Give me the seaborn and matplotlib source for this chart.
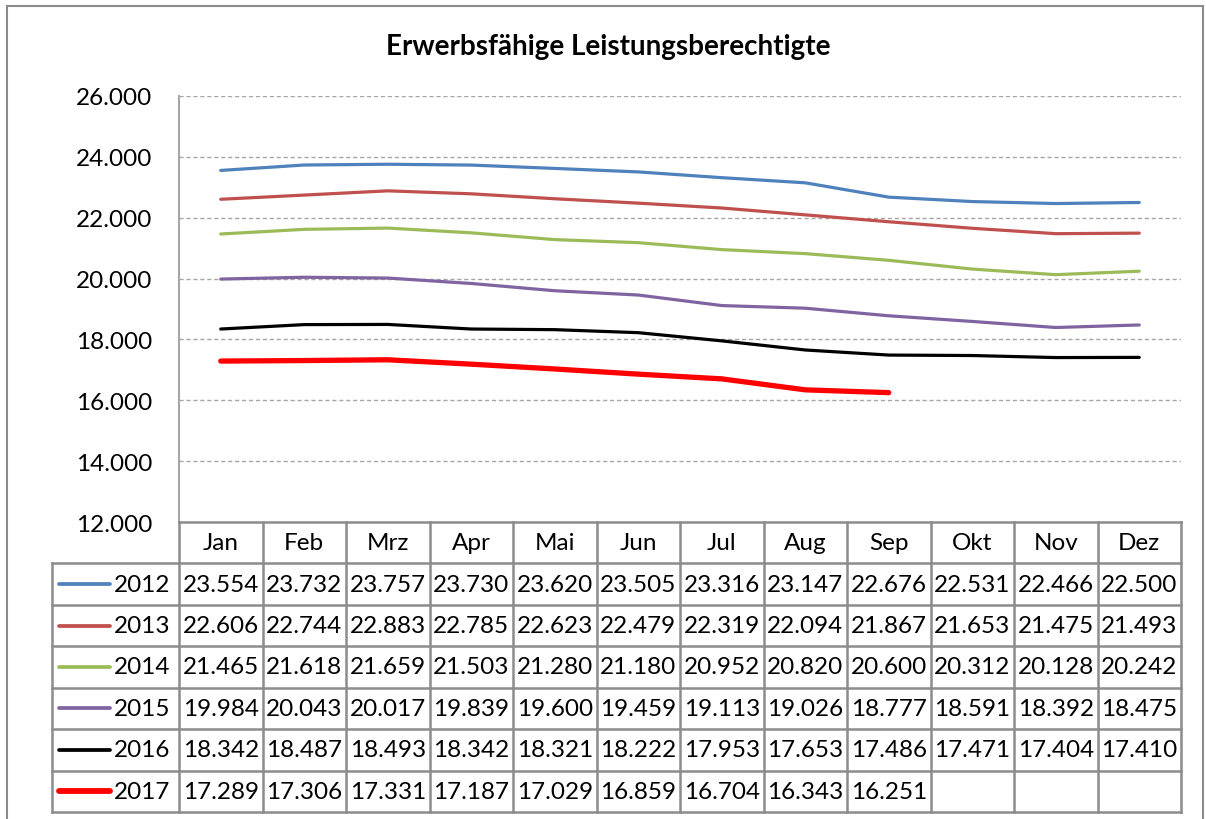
import matplotlib
matplotlib.use("Agg")
import matplotlib.pyplot as plt
from matplotlib.patches import Rectangle
from matplotlib.ticker import FuncFormatter
import numpy as np
import seaborn as sns

# ── Data ───────────────────────────────────────────────────────────────────
MONTHS = ["Jan", "Feb", "Mrz", "Apr", "Mai", "Jun",
          "Jul", "Aug", "Sep", "Okt", "Nov", "Dez"]
YEARS = ["2012", "2013", "2014", "2015", "2016", "2017"]

V2012 = [23554, 23732, 23757, 23730, 23620, 23505, 23316, 23147, 22676, 22531, 22466, 22500]
V2013 = [22606, 22744, 22883, 22785, 22623, 22479, 22319, 22094, 21867, 21653, 21475, 21493]
V2014 = [21465, 21618, 21659, 21503, 21280, 21180, 20952, 20820, 20600, 20312, 20128, 20242]
V2015 = [19984, 20043, 20017, 19839, 19600, 19459, 19113, 19026, 18777, 18591, 18392, 18475]
V2016 = [18342, 18487, 18493, 18342, 18321, 18222, 17953, 17653, 17486, 17471, 17404, 17410]
V2017 = [17289, 17306, 17331, 17187, 17029, 16859, 16704, 16343, 16251, None, None, None]

SERIES = [V2012, V2013, V2014, V2015, V2016, V2017]
COLORS = ["#4F81BD", "#C0504D", "#9BBB59", "#8064A2", "#000000", "#FF0000"]
WIDTHS = [2.3, 2.3, 2.3, 2.3, 2.3, 3.8]

TITLE = "Erwerbsfähige Leistungsberechtigte"

# ── Style ──────────────────────────────────────────────────────────────────
sns.set_theme(style="white")
plt.rcParams["font.family"] = ["Lato", "DejaVu Sans"]
plt.rcParams["text.color"] = "black"
plt.rcParams["ytick.color"] = "black"

W, H = 1206, 820
GRID_C = "#A6A6A6"
BORDER_C = "#8C8C8C"
FS = 17.5


def fig_box(x0, y0, x1, y1):
    """Pixel box (top-left origin) -> figure fraction rect."""
    return [x0 / W, 1 - y1 / H, (x1 - x0) / W, (y1 - y0) / H]


fig = plt.figure(figsize=(W / 100, H / 100), dpi=100)
fig.patch.set_facecolor("white")

# outer chart border
fig.add_artist(Rectangle((7 / W, -0.05), (1203 - 7) / W, 1.05 - 7 / H,
                         transform=fig.transFigure, fill=False,
                         edgecolor=BORDER_C, linewidth=1.5))

fig.text(608 / W, 1 - 47 / H, TITLE, ha="center", va="center",
         fontsize=20, fontweight="bold")

# ── Line chart ─────────────────────────────────────────────────────────────
ax = fig.add_axes(fig_box(179, 97, 1181, 523))
x = np.arange(len(MONTHS))
for vals, col, lw in zip(SERIES, COLORS, WIDTHS):
    y = np.array([np.nan if v is None else v for v in vals], dtype=float)
    sns.lineplot(x=x, y=y, color=col, linewidth=lw, ax=ax, legend=False)

ax.set_xlim(-0.5, len(MONTHS) - 0.5)
ax.set_ylim(12000, 26000)
ax.set_yticks(np.arange(12000, 26001, 2000))
ax.yaxis.set_major_formatter(FuncFormatter(lambda v, p: f"{int(v):,}".replace(",", ".")))
ax.tick_params(axis="y", labelsize=FS, pad=19, length=0, labelcolor="black")
ax.set_xticks([])
ax.set_xlabel("")
ax.set_ylabel("")
for yv in np.arange(14000, 26001, 2000):
    ax.axhline(yv, color=GRID_C, linestyle=(0, (3, 2)), linewidth=1.0, zorder=0)
for s in ["top", "right", "bottom"]:
    ax.spines[s].set_visible(False)
ax.spines["left"].set_color(GRID_C)
ax.spines["left"].set_linewidth(1.5)

# ── Data table ─────────────────────────────────────────────────────────────
col_w = (1181 - 179) / 12
lab_w = (179 - 52) / col_w
tab = fig.add_axes(fig_box(52, 523, 1181, 813))
tab.set_xlim(-0.5 - lab_w, 11.5)
tab.set_ylim(7, 0)
tab.axis("off")

lk = dict(color=BORDER_C, linewidth=1.8, clip_on=False, solid_capstyle="projecting")
# header row (months only)
tab.plot([-0.5, 11.5], [0, 0], **lk)
for i in range(13):
    tab.plot([i - 0.5, i - 0.5], [0, 7], **lk)
for r in range(1, 8):
    tab.plot([-0.5 - lab_w, 11.5], [r, r], **lk)
tab.plot([-0.5 - lab_w, -0.5 - lab_w], [1, 7], **lk)

for i, m in enumerate(MONTHS):
    tab.text(i, 0.5, m, ha="center", va="center", fontsize=FS)

for r, (yr, vals, col, lw) in enumerate(zip(YEARS, SERIES, COLORS, WIDTHS), start=1):
    yc = r + 0.5
    tab.plot([-0.5 - lab_w + 0.08, -0.5 - lab_w + 0.7], [yc, yc],
             color=col, linewidth=lw + 0.4, solid_capstyle="round")
    tab.text(-0.6, yc, yr, ha="right", va="center", fontsize=FS)
    for i, v in enumerate(vals):
        if v is None:
            continue
        tab.text(i, yc, f"{v:,}".replace(",", "."), ha="center", va="center", fontsize=FS)

fig.savefig("out.png", dpi=100)
